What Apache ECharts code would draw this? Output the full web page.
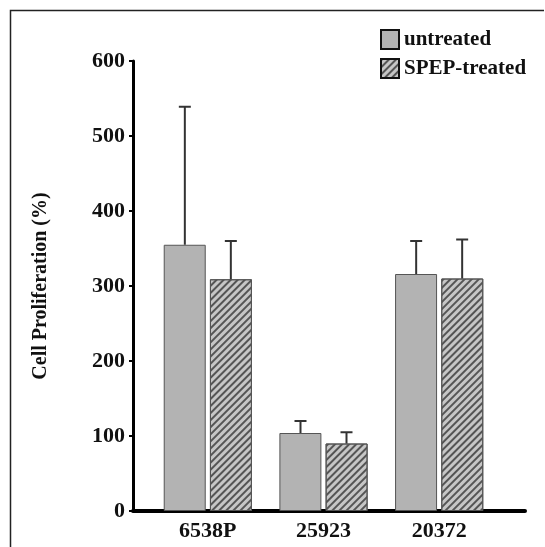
<!DOCTYPE html>
<html>
<head>
<meta charset="utf-8">
<script src="https://cdn.jsdelivr.net/npm/echarts@6/dist/echarts.min.js"></script>
<style>
    html, body { margin: 0; padding: 0; background: #fff; }
    #chart { width: 545px; height: 547px; }
</style>
</head>
<body>
<div id="chart"></div>
<script>
var categories = ['6538P', '25923', '20372'];
var untreated = [355, 104, 316];
var untreatedErr = [184, 16, 44];
var treated = [309, 90, 310];
var treatedErr = [51, 15, 52];
var yTicks = [0, 600, 100];   // min, max, interval

var serif = "'Liberation Serif', 'Times New Roman', serif";

function errData(vals, errs) {
    return vals.map(function (v, i) { return [i, v, v + errs[i]]; });
}

function errRenderer(offset) {
    return function (params, api) {
        var base = api.coord([api.value(0), api.value(1)]);
        var top = api.coord([api.value(0), api.value(2)]);
        var x = base[0] + offset;
        var style = { stroke: '#333', lineWidth: 2 };
        return {
            type: 'group',
            children: [
                { type: 'line', shape: { x1: x, y1: base[1], x2: x, y2: top[1] }, style: style },
                { type: 'line', shape: { x1: x - 6, y1: top[1], x2: x + 6, y2: top[1] }, style: style }
            ]
        };
    };
}

var myChart = echarts.init(document.getElementById('chart'));

var option = {
    backgroundColor: '#fff',
    animation: false,
    graphic: [
        {
            type: 'polyline',
            shape: { points: [[10.5, 547], [10.5, 10.5], [544, 10.5]] },
            style: { stroke: '#222', lineWidth: 1.5, fill: null }
        }
    ],
    legend: {
        orient: 'vertical',
        left: 375,
        top: 24,
        itemWidth: 18,
        itemHeight: 19,
        itemGap: 8,
        icon: 'rect',
        data: ['untreated', 'SPEP-treated'],
        itemStyle: { borderColor: '#111', borderWidth: 2 },
        textStyle: { fontFamily: serif, fontWeight: 'bold', fontSize: 21, color: '#111' }
    },
    grid: [
        { left: 150, right: 48, top: 61, bottom: 36 },
        { left: 133, right: 20, top: 61, bottom: 36 }
    ],
    xAxis: [
        {
            type: 'category',
            gridIndex: 0,
            data: categories,
            axisLine: { show: false },
            axisTick: { show: false },
            axisLabel: { margin: 9, fontFamily: serif, fontWeight: 'bold', fontSize: 22, color: '#111' }
        },
        {
            type: 'value',
            gridIndex: 1,
            min: 0,
            max: 1,
            axisLine: { show: true, lineStyle: { color: '#000', width: 4 } },
            axisTick: { show: false },
            axisLabel: { show: false },
            splitLine: { show: false }
        }
    ],
    yAxis: [
        {
            type: 'value',
            gridIndex: 0,
            min: yTicks[0],
            max: yTicks[1],
            interval: yTicks[2],
            show: false,
            splitLine: { show: false }
        },
        {
            type: 'value',
            gridIndex: 1,
            min: yTicks[0],
            max: yTicks[1],
            interval: yTicks[2],
            name: 'Cell Proliferation (%)',
            nameLocation: 'middle',
            nameGap: 82,
            nameTextStyle: { fontFamily: serif, fontWeight: 'bold', fontSize: 20, color: '#111' },
            axisLine: { show: true, lineStyle: { color: '#000', width: 3 } },
            axisTick: { show: true, length: 4, lineStyle: { color: '#000', width: 2 } },
            axisLabel: { margin: 8, fontFamily: serif, fontWeight: 'bold', fontSize: 22, color: '#111' },
            splitLine: { show: false }
        }
    ],
    series: [
        {
            name: 'untreated',
            type: 'bar',
            xAxisIndex: 0,
            yAxisIndex: 0,
            barWidth: 42,
            barGap: '10%',
            itemStyle: { color: '#b3b3b3', borderColor: '#555', borderWidth: 1 },
            data: untreated
        },
        {
            name: 'SPEP-treated',
            type: 'bar',
            xAxisIndex: 0,
            yAxisIndex: 0,
            barWidth: 42,
            itemStyle: {
                color: '#c6c6c6',
                borderColor: '#555',
                borderWidth: 1,
                decal: {
                    symbol: 'rect',
                    symbolSize: 1,
                    color: '#555',
                    dashArrayX: [1, 0],
                    dashArrayY: [1.5, 3],
                    rotation: -Math.PI / 4
                }
            },
            data: treated
        },
        {
            type: 'custom',
            xAxisIndex: 0,
            yAxisIndex: 0,
            z: 5,
            renderItem: errRenderer(-23),
            data: errData(untreated, untreatedErr)
        },
        {
            type: 'custom',
            xAxisIndex: 0,
            yAxisIndex: 0,
            z: 5,
            renderItem: errRenderer(23),
            data: errData(treated, treatedErr)
        }
    ]
};

myChart.setOption(option);
</script>
</body>
</html>
